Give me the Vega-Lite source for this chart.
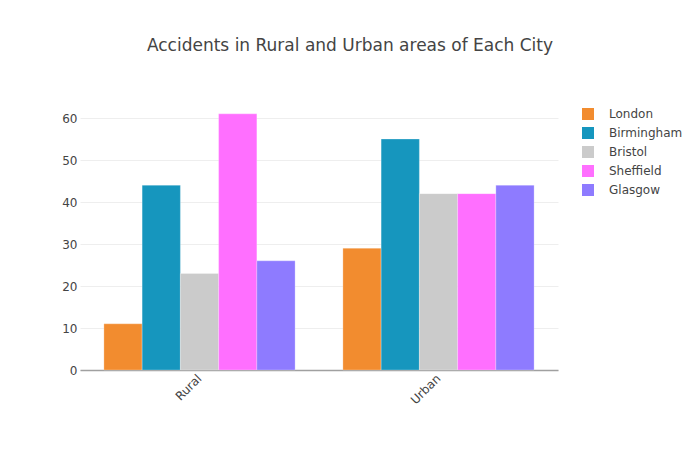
{
  "$schema": "https://vega.github.io/schema/vega-lite/v6.json",
  "width": 478,
  "height": 270,
  "autosize": {"type": "none"},
  "padding": {"left": 80, "top": 100, "right": 142, "bottom": 80},
  "background": "white",
  "title": {
    "text": "Accidents in Rural and Urban areas of Each City",
    "font": "DejaVu Sans",
    "fontSize": 17,
    "fontWeight": "normal",
    "color": "#444444",
    "anchor": "middle",
    "dx": 31,
    "offset": 32,
    "baseline": "alphabetic"
  },
  "config": {
    "view": {"stroke": null},
    "font": "DejaVu Sans"
  },
  "data": {
    "values": [
      {"area": "Rural", "city": "London", "accidents": 11},
      {"area": "Rural", "city": "Birmingham", "accidents": 44},
      {"area": "Rural", "city": "Bristol", "accidents": 23},
      {"area": "Rural", "city": "Sheffield", "accidents": 61},
      {"area": "Rural", "city": "Glasgow", "accidents": 26},
      {"area": "Urban", "city": "London", "accidents": 29},
      {"area": "Urban", "city": "Birmingham", "accidents": 55},
      {"area": "Urban", "city": "Bristol", "accidents": 42},
      {"area": "Urban", "city": "Sheffield", "accidents": 42},
      {"area": "Urban", "city": "Glasgow", "accidents": 44}
    ]
  },
  "mark": {"type": "bar", "stroke": "white", "strokeOpacity": 0.5, "strokeWidth": 0.5},
  "encoding": {
    "x": {
      "field": "area",
      "type": "nominal",
      "scale": {"paddingInner": 0.2, "paddingOuter": 0.1},
      "axis": {
        "title": null,
        "labelAngle": -45,
        "labelAlign": "right",
        "labelBaseline": "middle",
        "labelFont": "DejaVu Sans",
        "labelFontSize": 12,
        "labelColor": "#444444",
        "labelPadding": 6,
        "ticks": false,
        "domain": true,
        "domainColor": "#a0a0a0",
        "domainWidth": 1.5,
        "grid": false
      }
    },
    "xOffset": {
      "field": "city",
      "type": "nominal",
      "sort": ["London", "Birmingham", "Bristol", "Sheffield", "Glasgow"],
      "scale": {"paddingInner": 0, "paddingOuter": 0}
    },
    "y": {
      "field": "accidents",
      "type": "quantitative",
      "scale": {"domain": [0, 64.3], "nice": false, "zero": true},
      "axis": {
        "title": null,
        "values": [0, 10, 20, 30, 40, 50, 60],
        "labelFont": "DejaVu Sans",
        "labelFontSize": 12,
        "labelColor": "#444444",
        "labelPadding": 3,
        "ticks": false,
        "domain": false,
        "gridColor": "#eeeeee",
        "gridWidth": 1
      }
    },
    "color": {
      "field": "city",
      "type": "nominal",
      "sort": ["London", "Birmingham", "Bristol", "Sheffield", "Glasgow"],
      "scale": {
        "domain": ["London", "Birmingham", "Bristol", "Sheffield", "Glasgow"],
        "range": ["#F28C2F", "#1696BE", "#CBCBCB", "#FF6FFF", "#8E7BFF"]
      },
      "legend": {
        "title": null,
        "orient": "none",
        "legendX": 502,
        "legendY": 8,
        "symbolType": "square",
        "symbolSize": 144,
        "symbolStrokeWidth": 0,
        "labelFont": "DejaVu Sans",
        "labelFontSize": 12,
        "labelColor": "#444444",
        "labelOffset": 15,
        "rowPadding": 7,
        "padding": 0
      }
    }
  }
}
